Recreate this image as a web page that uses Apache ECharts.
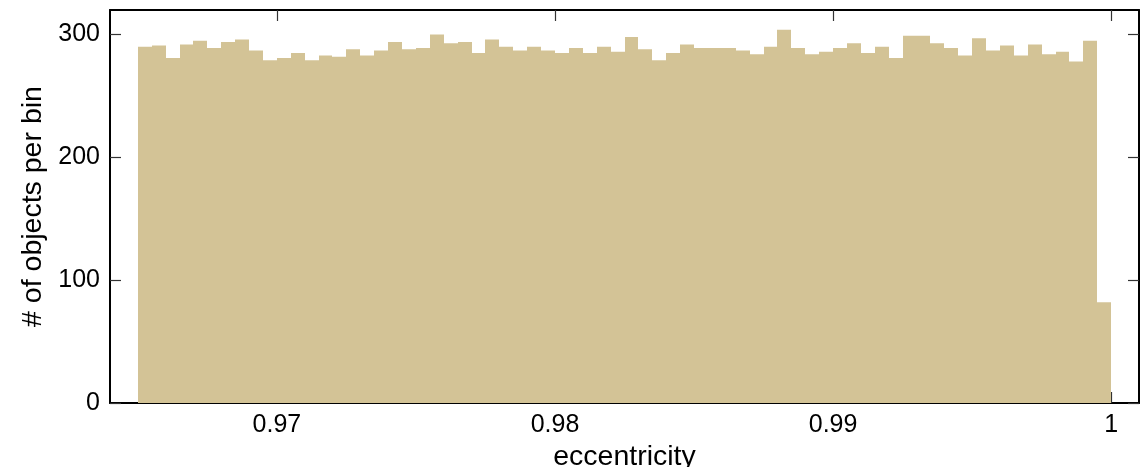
<!DOCTYPE html>
<html>
<head>
<meta charset="utf-8">
<script src="https://cdn.jsdelivr.net/npm/echarts@6/dist/echarts.min.js"></script>
<style>
html, body { margin: 0; padding: 0; background: #fff; }
#chart { width: 1145px; height: 467px; }
</style>
</head>
<body>
<div id="chart"></div>
<script>
// histogram bins: left edge of first bin and bin width
const binStart = 0.965
const binWidth = 0.0005
const counts = [
  290, 291, 281, 292, 295, 289, 294, 296, 287, 279,
  281, 285, 279, 283, 282, 288, 283, 287, 294, 288,
  289, 300, 293, 294, 285, 296, 290, 287, 290, 287,
  285, 289, 285, 290, 286, 298, 288, 279, 285, 292,
  289, 289, 289, 287, 284, 290, 304, 289, 284, 286,
  289, 293, 285, 290, 281, 299, 299, 293, 289, 283,
  297, 287, 291, 283, 292, 284, 286, 278, 295, 82
]
const xTicks = [0.97, 0.98, 0.99, 1]
const yTicks = [0, 100, 200, 300]

const barColor = '#d3c396'
const font = 'Liberation Sans, Arial, sans-serif'

const bins = counts.map((c, i) => [binStart + i * binWidth, binStart + (i + 1) * binWidth, c])

const line = { show: true, onZero: false, lineStyle: { color: '#000', width: 2 } }
const tickStyle = { color: '#333', width: 1.2 }

const chart = echarts.init(document.getElementById('chart'))

chart.setOption({
  animation: false,
  grid: { left: 110, right: 6, top: 10, bottom: 64, outerBoundsMode: 'none' },
  xAxis: [{
    type: 'value',
    min: 0.964,
    max: 1.001,
    position: 'bottom',
    axisLine: line,
    axisTick: { show: true, inside: true, length: 11, lineStyle: tickStyle, customValues: xTicks },
    axisLabel: { customValues: xTicks, color: '#000', fontSize: 25, fontFamily: font, margin: 10 },
    splitLine: { show: false },
    name: 'eccentricity',
    nameLocation: 'middle',
    nameGap: 35,
    nameTextStyle: { color: '#000', fontSize: 28.5, fontFamily: font }
  }, {
    type: 'value',
    min: 0.964,
    max: 1.001,
    position: 'top',
    axisLine: line,
    axisTick: { show: true, inside: true, length: 11, lineStyle: tickStyle, customValues: xTicks },
    axisLabel: { show: false },
    splitLine: { show: false }
  }],
  yAxis: [{
    type: 'value',
    min: 0,
    max: 320,
    position: 'left',
    axisLine: line,
    axisTick: { show: true, inside: true, length: 11, lineStyle: tickStyle, customValues: yTicks },
    axisLabel: { customValues: yTicks, color: '#000', fontSize: 25, fontFamily: font, margin: 10 },
    splitLine: { show: false },
    name: '# of objects per bin',
    nameLocation: 'middle',
    nameRotate: 90,
    nameGap: 62,
    nameTextStyle: { color: '#000', fontSize: 28.5, fontFamily: font }
  }, {
    type: 'value',
    min: 0,
    max: 320,
    position: 'right',
    axisLine: line,
    axisTick: { show: true, inside: true, length: 11, lineStyle: tickStyle, customValues: yTicks },
    axisLabel: { show: false },
    splitLine: { show: false }
  }],
  series: [{
    type: 'custom',
    xAxisIndex: 0,
    yAxisIndex: 0,
    encode: { x: [0, 1], y: 2 },
    data: bins,
    z: 1,
    renderItem: (params, api) => {
      const p0 = api.coord([api.value(0), 0])
      const p1 = api.coord([api.value(1), api.value(2)])
      const x0 = Math.round(p0[0])
      const x1 = Math.round(p1[0])
      return {
        type: 'rect',
        shape: { x: x0, y: p1[1], width: x1 - x0, height: p0[1] - p1[1] },
        style: { fill: barColor }
      }
    }
  }]
})
</script>
</body>
</html>
